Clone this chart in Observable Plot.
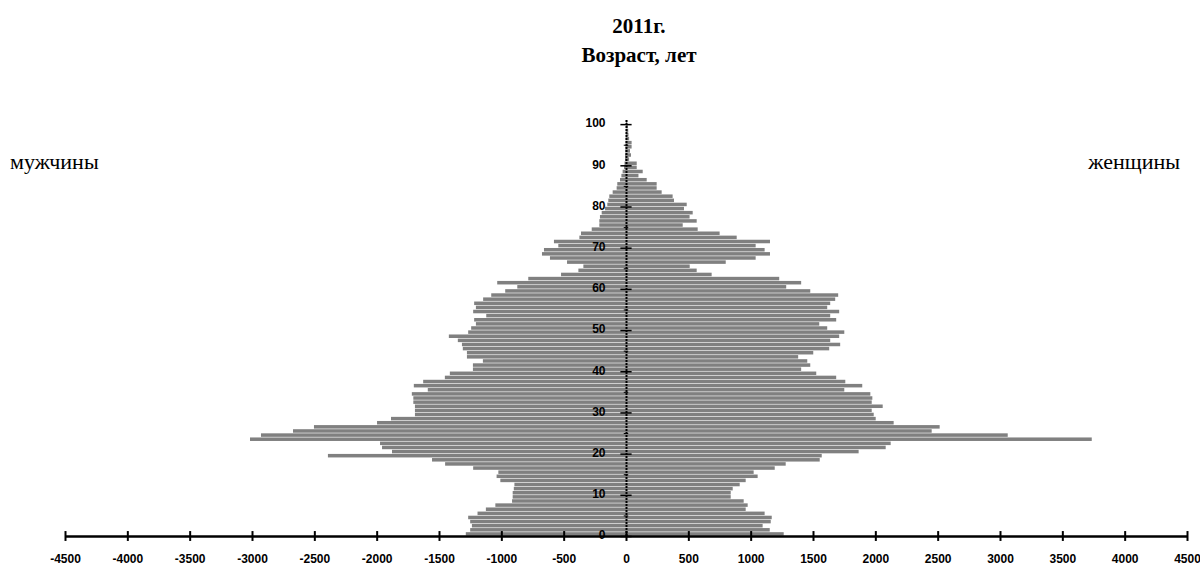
<!DOCTYPE html>
<html>
<head>
<meta charset="utf-8">
<script src="https://cdn.jsdelivr.net/npm/d3@7"></script>
<script src="https://cdn.jsdelivr.net/npm/@observablehq/plot@0.6"></script>
<style>
  html, body { margin: 0; padding: 0; background: #fff; }
  #wrap { position: relative; width: 1200px; height: 568px; overflow: hidden; }
  #title { position: relative; width: 1200px; height: 70px; font-family: "Liberation Serif", "Times New Roman", serif; font-weight: bold; font-size: 21px; }
  #title div { position: absolute; left: 0; width: 1278px; text-align: center; line-height: 21px; }
  .side { position: absolute; font-family: "Liberation Serif", "Times New Roman", serif; font-size: 22px; line-height: 22px; }
</style>
</head>
<body>
<div id="wrap">
  <div id="title">
    <div style="top:16px">2011г.</div>
    <div style="top:45px">Возраст, лет</div>
  </div>
  <div class="side" style="left:10px; top:151px">мужчины</div>
  <div class="side" style="right:20px; top:151px">женщины</div>
  <div id="chart"></div>
</div>
<script>
// Ages 0..100
const ages = d3.range(0, 101);

// Men, persons per single year of age (drawn to the left)
const male = [
  1285, 1250, 1236, 1250, 1266, 1191, 1124, 1048, 914, 909,
  909, 900, 895, 1008, 1038, 1024, 1226, 1451, 1556, 2391,
  1877, 1957, 1973, 3016, 2928, 2671, 2503, 1997, 1885, 1693,
  1693, 1693, 1706, 1706, 1718, 1590, 1702, 1627, 1453, 1413,
  1228, 1228, 1148, 1276, 1276, 1309, 1316, 1349, 1421, 1266,
  1242, 1204, 1218, 1121, 1226, 1204, 1218, 1146, 1081, 969,
  872, 1033, 784, 521, 382, 342, 473, 610, 674, 658,
  543, 578, 374, 361, 275, 214, 214, 209, 195, 168,
  150, 142, 134, 107, 75, 70, 48, 37, 27, 16,
  12, 8, 8, 6, 5, 4, 3, 2, 2, 1,
  1
];

// Women, persons per single year of age (drawn to the right)
const female = [
  1265, 1153, 1096, 1161, 1169, 1112, 960, 976, 944, 840,
  840, 856, 912, 960, 1056, 1024, 1193, 1281, 1554, 1570,
  1866, 2083, 2123, 3736, 3062, 2452, 2516, 2147, 2003, 1987,
  1971, 2059, 1971, 1976, 1960, 1751, 1895, 1759, 1686, 1526,
  1405, 1478, 1454, 1381, 1502, 1630, 1718, 1638, 1710, 1751,
  1614, 1550, 1686, 1638, 1710, 1614, 1638, 1678, 1702, 1478,
  1285, 1405, 1229, 687, 567, 511, 800, 1040, 1155, 1112,
  1040, 1155, 888, 751, 575, 455, 567, 510, 535, 465,
  487, 385, 374, 286, 246, 246, 166, 100, 134, 86,
  86, 25, 40, 32, 45, 45, 25, 20, 18, 15,
  10
];

const xTicks = [-4500, -4000, -3500, -3000, -2500, -2000, -1500, -1000, -500, 0, 500, 1000, 1500, 2000, 2500, 3000, 3500, 4000, 4500];
const yTicks = [0, 10, 20, 30, 40, 50, 60, 70, 80, 90, 100];
const yMinor = [5, 15, 25, 35, 45, 55, 65, 75, 85, 95];

const rows = ages.flatMap((a, i) => [
  {age: a, value: -male[i]},
  {age: a, value: female[i]}
]);

const chart = Plot.plot({
  width: 1200,
  height: 498,
  marginLeft: 65,
  marginRight: 13,
  marginTop: 50,
  marginBottom: 32,
  style: {fontFamily: "'Liberation Sans', Arial, sans-serif", background: "white", overflow: "visible"},
  x: {domain: [-4500, 4500], axis: null},
  y: {domain: [0, 101], axis: null},
  marks: [
    Plot.rect(rows, {x1: 0, x2: "value", y1: "age", y2: d => d.age + 1, fill: "#808080", insetTop: 0.3, insetBottom: 0.3}),
    Plot.ruleX([0], {y1: 0, y2: 101, stroke: "black", strokeWidth: 2, strokeDasharray: "2,1"}),
    Plot.ruleY(yTicks, {y: d => d, x1: -45, x2: 45, stroke: "black", strokeWidth: 1.5}),
    Plot.ruleY(yMinor, {y: d => d, x1: -18, x2: 18, stroke: "black", strokeWidth: 1}),
    Plot.ruleY([0], {x1: -4500, x2: 4500, stroke: "black", strokeWidth: 2.5}),
    Plot.ruleX(xTicks, {x: d => d, y1: -1.2, y2: 1.2, stroke: "black", strokeWidth: 2}),
    Plot.text(xTicks, {x: d => d, y: 0, dy: 23, text: d => String(d), fontSize: 12, fontWeight: "bold", fill: "black"}),
    Plot.text(yTicks, {x: 0, y: d => d, dx: -21, dy: -1, text: d => String(d), textAnchor: "end", fontSize: 12, fontWeight: "bold", fill: "black"})
  ]
});
document.getElementById("chart").appendChild(chart);
</script>
</body>
</html>
